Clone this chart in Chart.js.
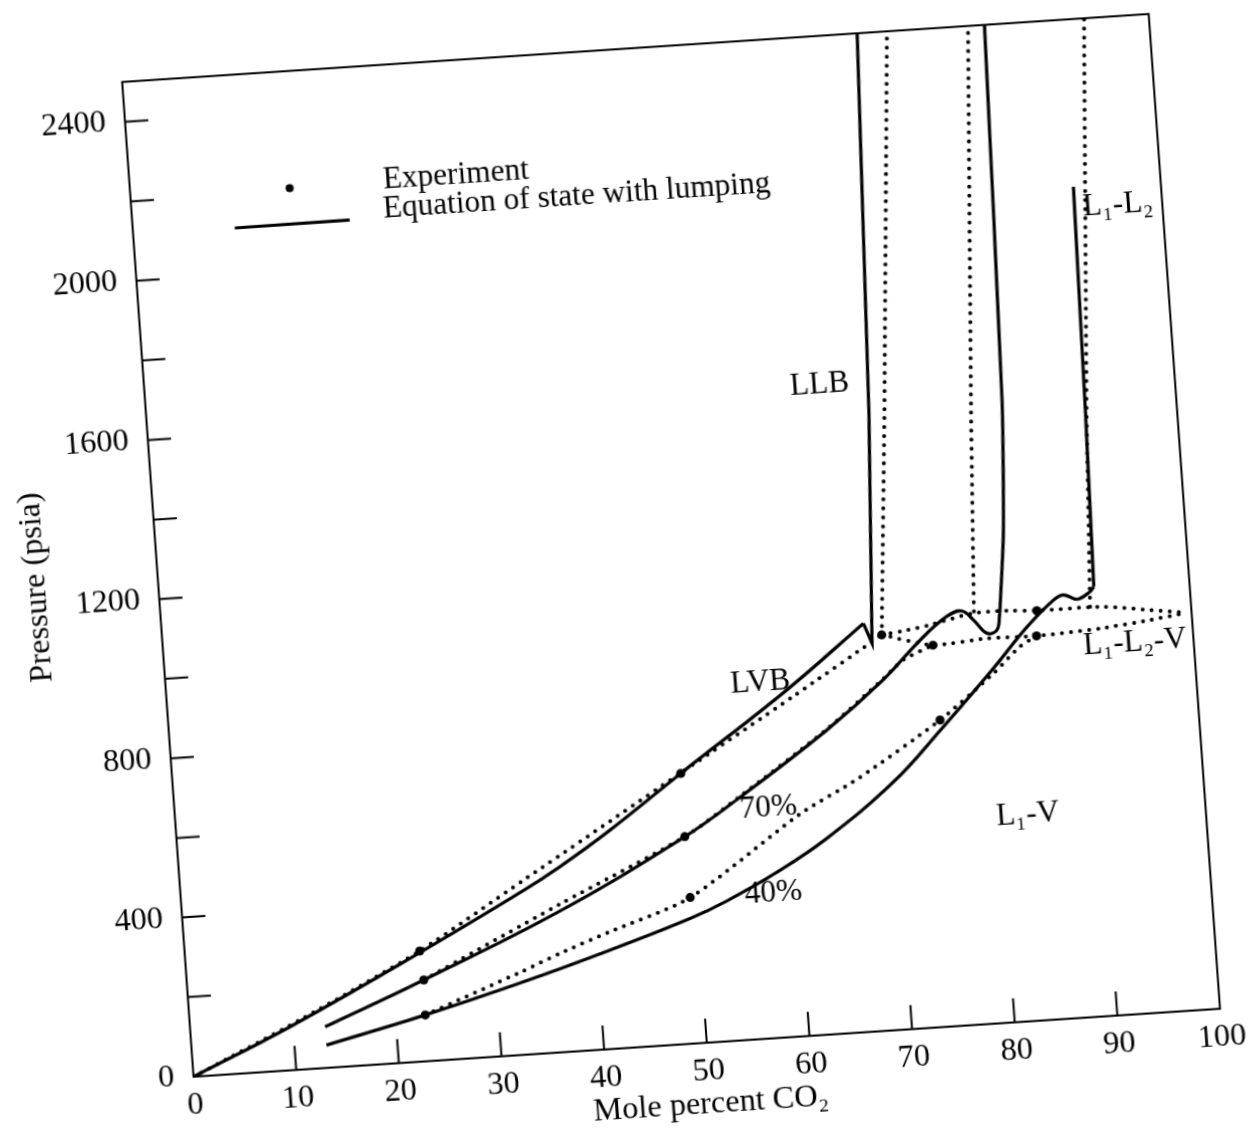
<!DOCTYPE html>
<html>
<head>
<meta charset="utf-8">
<title>Pressure vs mole percent CO2</title>
<script src="https://cdn.jsdelivr.net/npm/chart.js@4.4.1/dist/chart.umd.min.js"></script>
<style>
    html, body { margin: 0; background: #fff; width: 1253px; height: 1136px; overflow: hidden; }
    #chart { position: absolute; left: 0; top: 0; transform-origin: 0 0; }
</style>
</head>
<body>
<canvas id="chart" width="1201" height="1151" style="width:1201px;height:1151px"></canvas>
<script>
// --- DATA (mole % CO2, pressure psia) ---
const xTicks = [0, 10, 20, 30, 40, 50, 60, 70, 80, 90, 100];
const yTicks = [0, 200, 400, 600, 800, 1000, 1200, 1400, 1600, 1800, 2000, 2200, 2400];
const yLabelled = [0, 400, 800, 1200, 1600, 2000, 2400];

// equation of state with lumping (solid)
const eosLVB = [[0, 0], [9.7, 109], [22.8, 273], [33.2, 410], [37.0, 465], [42.1, 548], [49.35, 678], [60.2, 869], [68.1, 1023]];
const eosLLB = [[68.1, 1023], [68.8, 972], [70.1, 1547], [71.6, 2500]];
const eos70 = [[13.1, 103], [23, 204], [36.7, 354], [49.3, 519], [54.9, 608], [63.8, 762], [69.6, 878], [73.5, 972], [76.2, 1026], [77.7, 1038], [78.8, 1013], [80.0, 978], [81.0, 984], [81.4, 1026]];
const eos70LL = [[81.4, 1026], [82.3, 1225], [83.1, 1559], [84.0, 2500]];
const eos40 = [[13.1, 57], [22.9, 116], [32.7, 183], [41.3, 248], [49.3, 314], [52.9, 351], [58, 415], [63.1, 492], [69.9, 621], [74.9, 745], [80.4, 889], [83.9, 986], [86.7, 1050], [87.7, 1061], [89.0, 1048], [90.3, 1065], [90.7, 1077]];
const eos40LL = [[90.7, 1077], [91.1, 1512], [91.5, 2080]];

// experiment (dotted)
const expLVB = [[0, 0], [11, 128], [22.8, 277], [33.3, 436], [49.35, 679], [60.8, 852], [69.8, 991]];
const exp70 = [[23, 204], [36.8, 372], [49.3, 519], [54.9, 610], [63.8, 764], [69.6, 880], [71.7, 925], [74.7, 957]];
const exp40 = [[22.9, 116], [32.7, 210], [36.4, 248], [41.2, 292], [49.4, 366], [60.6, 556], [66.6, 637], [74.86, 768.5], [80.4, 877], [83.1, 939], [84.8, 963]];
const expLLB = [[69.8, 991], [71.6, 1545], [74.5, 2500]];
const expLL70 = [[78.9, 1035], [80.0, 1531], [82.4, 2500]];
const expLL40 = [[90.2, 1027], [91.2, 1512], [93.7, 2500]];
const exp3pUpper = [[69.8, 991], [72.3, 999], [74.5, 1008], [78.8, 1030], [82.1, 1031], [85, 1026], [91.2, 1025], [96, 1009], [99.6, 996]];
const exp3pLower = [[69.8, 991], [74.7, 957], [80.0, 965], [84.8, 963], [91.0, 971], [95.9, 984], [99.6, 996]];
const expPoints = [[22.8, 277], [49.35, 678], [23, 204], [49.3, 519], [74.7, 957], [22.9, 116], [49.4, 366], [74.86, 768.5], [84.8, 963], [85, 1026], [69.8, 991]];

// --- ANNOTATIONS ---
const regionLabels = [
    { text: 'LLB', x: 65.5, y: 1626 },
    { text: 'LVB', x: 57.7, y: 891 },
    { text: '70%', x: 57.6, y: 577 },
    { text: '40%', x: 57.5, y: 364 },
    { text: 'L₁-V', x: 82.7, y: 516 },
    { text: 'L₁-L₂-V', x: 94.3, y: 929 },
    { text: 'L₁-L₂', x: 95.7, y: 2027 }
];
const legendDot = [15.5, 2207];
const legendLine = [[9.9, 2116], [21.1, 2117]];
const legendText = [['Experiment', 24.6, 2212], ['Equation of state with lumping', 24.4, 2137]];

// the page was scanned askew: where the axes of the photo lie
const ORIGIN = [193.5, 1076.7];      // photo px of (0, 0)
const X_DIR = [10.265, -0.68];       // photo px per mole %
const Y_DIR = [-0.02854, -0.3979];   // photo px per psia

// --- HELPERS ---
const FONT = 'Liberation Serif, Times New Roman, serif';
const toXY = arr => arr.map(([x, y]) => ({ x, y }));
const solid = (pts, tension = 0.4, mode = 'default') => ({
    data: toXY(pts), showLine: true, pointRadius: 0, borderColor: '#000', borderWidth: 3.2,
    tension, cubicInterpolationMode: mode
});
const dotted = (pts, tension = 0.25) => ({
    data: toXY(pts), showLine: true, pointRadius: 0, borderColor: '#000', borderWidth: 4,
    borderDash: [0, 9], borderCapStyle: 'round', tension
});

const framePlugin = {
    id: 'paperFrame',
    afterDraw(chart) {
        const { ctx, chartArea: a, scales: { x, y } } = chart;
        ctx.save();
        ctx.strokeStyle = '#000';
        ctx.lineWidth = 2;
        ctx.strokeRect(a.left, a.top, a.width, a.height);

        // inward tick marks
        ctx.beginPath();
        xTicks.slice(1, -1).forEach(v => {
            const px = x.getPixelForValue(v);
            ctx.moveTo(px, a.bottom); ctx.lineTo(px, a.bottom - 24);
        });
        yTicks.slice(1).forEach(v => {
            const py = y.getPixelForValue(v);
            ctx.moveTo(a.left, py); ctx.lineTo(a.left + 23, py);
        });
        ctx.stroke();

        // region labels
        ctx.fillStyle = '#000';
        ctx.font = `31px ${FONT}`;
        ctx.textAlign = 'center';
        ctx.textBaseline = 'middle';
        regionLabels.forEach(l => ctx.fillText(l.text, x.getPixelForValue(l.x), y.getPixelForValue(l.y)));

        // legend
        ctx.beginPath();
        ctx.arc(x.getPixelForValue(legendDot[0]), y.getPixelForValue(legendDot[1]), 4, 0, Math.PI * 2);
        ctx.fill();
        ctx.lineWidth = 3.2;
        ctx.beginPath();
        ctx.moveTo(x.getPixelForValue(legendLine[0][0]), y.getPixelForValue(legendLine[0][1]));
        ctx.lineTo(x.getPixelForValue(legendLine[1][0]), y.getPixelForValue(legendLine[1][1]));
        ctx.stroke();
        ctx.textAlign = 'left';
        legendText.forEach(([t, lx, ly]) => ctx.fillText(t, x.getPixelForValue(lx), y.getPixelForValue(ly)));
        ctx.restore();
    }
};

// --- CHART ---
const canvas = document.getElementById('chart');
const tickFont = { family: FONT, size: 32, lineHeight: 1 };

const chart = new Chart(canvas.getContext('2d'), {
    type: 'scatter',
    data: {
        datasets: [
            solid(eosLVB), solid(eosLLB, 0), solid(eos70), solid(eos70LL, 0.2), solid(eos40), solid(eos40LL, 0),
            dotted(expLVB), dotted(exp70), dotted(exp40),
            dotted(expLLB, 0), dotted(expLL70, 0), dotted(expLL40, 0),
            dotted(exp3pUpper, 0.3), dotted(exp3pLower, 0.2),
            { data: toXY(expPoints), showLine: false, pointRadius: 4.5, pointBackgroundColor: '#000', pointBorderWidth: 0 }
        ]
    },
    options: {
        responsive: false,
        animation: false,
        events: [],
        layout: { padding: { left: 10, top: 60, right: 30, bottom: 20 } },
        plugins: { legend: { display: false }, tooltip: { enabled: false } },
        scales: {
            x: {
                type: 'linear', min: 0, max: 100,
                afterBuildTicks: s => { s.ticks = xTicks.map(v => ({ value: v })); },
                grid: { display: false, drawTicks: false },
                border: { display: false },
                ticks: { color: '#000', font: tickFont, padding: 13, maxRotation: 0, autoSkip: false },
                title: { display: true, text: 'Mole percent CO₂', color: '#000', font: tickFont, padding: { top: -12, bottom: 0 } }
            },
            y: {
                type: 'linear', min: 0, max: 2500,
                afterBuildTicks: s => { s.ticks = yTicks.map(v => ({ value: v })); },
                grid: { display: false, drawTicks: false },
                border: { display: false },
                ticks: { color: '#000', font: tickFont, padding: 19, autoSkip: false, callback: v => yLabelled.includes(v) ? String(v) : '' },
                title: { display: true, text: 'Pressure (psia)', color: '#000', font: tickFont, padding: { top: 0, bottom: 2 } }
            }
        }
    },
    plugins: [framePlugin]
});

// tilt the canvas the way the scanned page is tilted
const { left, bottom, width, height } = chart.chartArea;
const sx = 100 / width, sy = 2500 / height;
const a = X_DIR[0] * sx, b = X_DIR[1] * sx, c = -Y_DIR[0] * sy, d = -Y_DIR[1] * sy;
const e = ORIGIN[0] - a * left - c * bottom, f = ORIGIN[1] - b * left - d * bottom;
canvas.style.transform = `matrix(${a}, ${b}, ${c}, ${d}, ${e}, ${f})`;
</script>
</body>
</html>
